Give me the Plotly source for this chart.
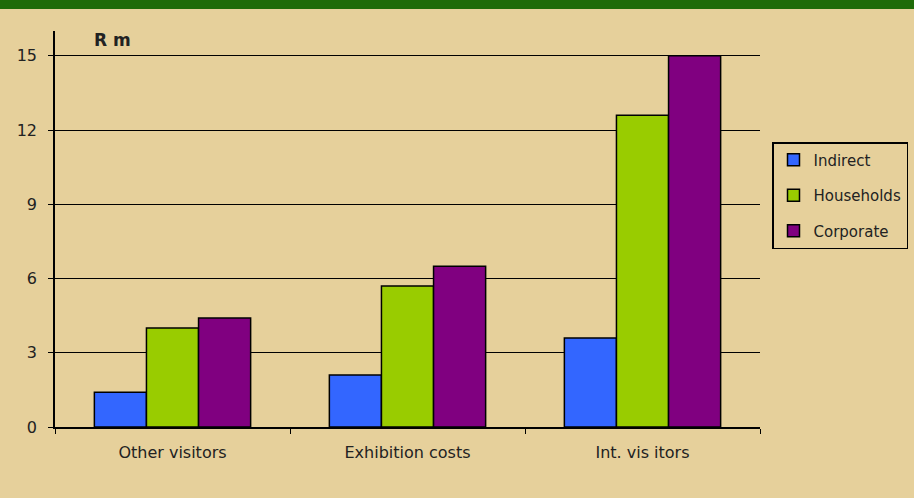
import plotly.graph_objects as go

categories = ["Other visitors", "Exhibition costs", "Int. vis itors"]
indirect = [1.4, 2.1, 3.6]
households = [4.0, 5.7, 12.6]
corporate = [4.4, 6.5, 15.0]

series = [
    ("Indirect", indirect, "#3366ff"),
    ("Households", households, "#99cc00"),
    ("Corporate", corporate, "#800080"),
]

fig = go.Figure()
for name, vals, color in series:
    fig.add_trace(go.Bar(
        name=name, x=categories, y=vals, legendgroup=name,
        marker=dict(color=color, line=dict(color="#000000", width=1.5)),
    ))

W, H = 914, 498
m_l, m_r, m_t, m_b = 55, 154, 31, 71
plot_w = W - m_l - m_r
plot_h = H - m_t - m_b

def py(px):
    # pixel row -> paper y coordinate
    return (H - m_b - px) / plot_h

def px_(x):
    # pixel column -> paper x coordinate
    return (x - m_l) / plot_w

FONT = "DejaVu Sans, Verdana, sans-serif"

fig.update_layout(
    width=W, height=H,
    margin=dict(l=m_l, r=m_r, t=m_t, b=m_b, autoexpand=False),
    paper_bgcolor="#e6d09b",
    plot_bgcolor="#e6d09b",
    barmode="group",
    bargap=0.335,
    bargroupgap=0,
    font=dict(family=FONT, size=15, color="#222222"),
    showlegend=True,
    legend=dict(
        x=px_(772), xanchor="left",
        y=py(142), yanchor="top",
        bgcolor="rgba(0,0,0,0)", bordercolor="#000000", borderwidth=1.5,
        font=dict(family=FONT, size=15, color="#222222"),
        tracegroupgap=13, itemwidth=30,
    ),
    xaxis=dict(
        showline=True, linecolor="#000000", linewidth=1.5,
        ticks="outside", tickson="boundaries", ticklen=5, tickcolor="#000000",
        tickfont=dict(family=FONT, size=16), showgrid=False, ticklabelstandoff=10,
    ),
    yaxis=dict(
        range=[0, 16], dtick=3, tick0=0,
        showline=True, linecolor="#000000", linewidth=1.5,
        ticks="outside", ticklen=5, tickcolor="#000000",
        showgrid=True, gridcolor="#000000", gridwidth=1.3,
        zeroline=False, tickfont=dict(family=FONT, size=16), ticklabelstandoff=8,
    ),
    shapes=[
        dict(type="rect", xref="paper", yref="paper",
             x0=px_(0), x1=px_(W), y0=py(9), y1=py(-2),
             fillcolor="#1f6b08", line=dict(width=0), layer="above"),
    ],
    annotations=[
        dict(text="<b>R m</b>", xref="paper", yref="paper",
             x=px_(92), y=py(40),
             xanchor="left", yanchor="middle", showarrow=False,
             font=dict(family=FONT, size=17, color="#222222")),
    ],
)

fig.write_html("out.html")
